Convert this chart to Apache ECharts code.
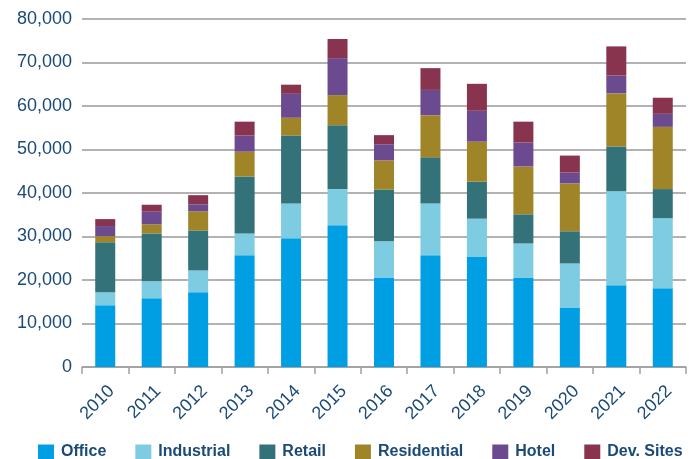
<!DOCTYPE html>
<html><head><meta charset="utf-8">
<script src="https://cdn.jsdelivr.net/npm/echarts@6/dist/echarts.min.js"></script>
<style>html,body{margin:0;padding:0;background:#fff}#c{width:697px;height:459px}</style>
</head><body><div id="c"></div>
<script>
const years = ['2010','2011','2012','2013','2014','2015','2016','2017','2018','2019','2020','2021','2022'];
const office      = [14200,15800,17200,25700,29600,32600,20600,25700,25400,20600,13700,18800,18100];
const industrial  = [3000,3900,5000,5000,8000,8300,8300,11900,8700,7800,10100,21600,16100];
const retail      = [11500,11000,9200,13100,15600,14700,11900,10600,8500,6700,7400,10300,6700];
const residential = [1400,2100,4400,5700,4100,6900,6700,9700,9200,11000,11000,12200,14300];
const hotel       = [2300,2900,1600,3700,5500,8500,3700,5800,7100,5500,2500,4100,3000];
const devSites    = [1600,1600,2100,3200,2100,4400,2100,5000,6200,4800,3900,6700,3700];
const seriesNames = ['Office','Industrial','Retail','Residential','Hotel','Dev. Sites'];
const seriesData = [office, industrial, retail, residential, hotel, devSites];
const colors = ['#009FE3','#7DCCE2','#337279','#A08528','#6B4A8F','#88344F'];

const textColor = '#1A4A78';
const chart = echarts.init(document.getElementById('c'));
chart.setOption({
  animation: false,
  color: colors,
  grid: {left: 82, right: 11, top: 19, bottom: 92, containLabel: false},
  legend: {
    top: 439, left: 33,
    itemWidth: 16, itemHeight: 15, itemGap: 29, icon: 'rect',
    textStyle: {color: textColor, fontSize: 16, fontFamily: 'Liberation Sans, Arial, sans-serif', fontWeight: 'bold', padding: [0,0,0,2]},
    data: seriesNames
  },
  xAxis: {
    type: 'category', data: years,
    axisLine: {lineStyle: {color: '#a0a0a0', width: 1.5}},
    axisTick: {show: true, length: 7, lineStyle: {color: '#a0a0a0', width: 1.5}},
    axisLabel: {rotate: 45, color: textColor, fontSize: 18, fontFamily: 'Liberation Sans, Arial, sans-serif', margin: 15, verticalAlign: 'top'}
  },
  yAxis: {
    type: 'value', min: 0, max: 80000, interval: 10000,
    axisLine: {show: false},
    axisTick: {show: false},
    splitLine: {lineStyle: {color: '#999', width: 1.5}},
    axisLabel: {color: textColor, fontSize: 18, fontFamily: 'Liberation Sans, Arial, sans-serif', margin: 10,
      formatter: v => v.toLocaleString('en-US')}
  },
  series: seriesNames.map((n,i) => ({
    name: n, type: 'bar', stack: 'total', data: seriesData[i], barWidth: 20
  }))
});
</script></body></html>
